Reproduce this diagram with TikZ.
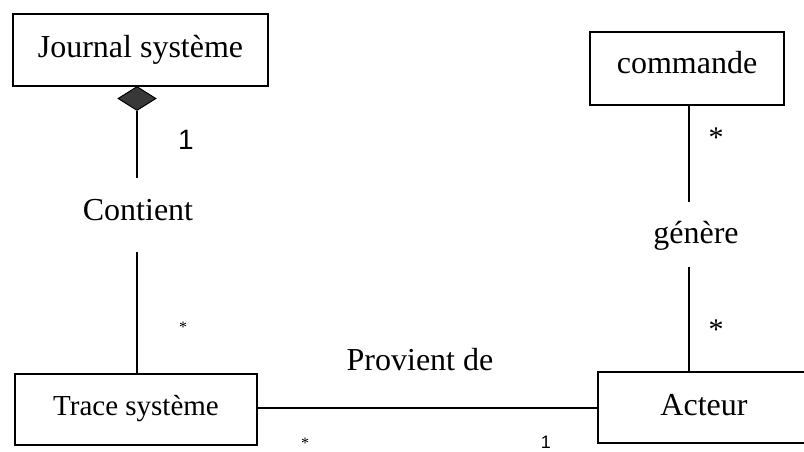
\documentclass[tikz,border=0pt]{standalone}
\usepackage{fontspec}
\setmainfont{Liberation Serif}
\newfontfamily\labelsans{Liberation Sans}
\usetikzlibrary{shapes.geometric}
\tikzset{
  classbox/.style={draw, line width=1.8pt, rectangle, inner sep=0pt,
    font=\fontsize{32}{38}\selectfont},
  assoc/.style={line width=1.8pt},
  rolename/.style={inner sep=0pt, font=\fontsize{32}{38}\selectfont},
  mult/.style={inner sep=0pt, font=\fontsize{30}{36}\selectfont},
  multsmall/.style={inner sep=0pt, font=\fontsize{16}{18}\selectfont},
  multsans/.style={inner sep=0pt, font=\labelsans\fontsize{28}{32}\selectfont},
  compo/.style={draw, fill=black!78, diamond, inner sep=0pt, line width=1pt,
    minimum width=38pt, minimum height=24pt, aspect=1.58},
}
\begin{document}
\begin{tikzpicture}[x=1pt, y=-1pt]
  \useasboundingbox (0,0) rectangle (804,451);

  % classes
  \node[classbox, minimum width=255pt, minimum height=72pt] (journal) at (140.5,50) {Journal système};
  \node[classbox, minimum width=194pt, minimum height=73pt,
        text depth=12pt] (commande) at (687,68.5) {commande};
  \node[classbox, minimum width=242pt, minimum height=71pt, text depth=8pt,
        font=\fontsize{29}{34}\selectfont] (trace) at (136,409.5) {Trace système};
  \node[classbox, minimum width=212pt, minimum height=71pt,
        text depth=6pt] (acteur) at (704,407.5) {Acteur};

  % composition: Journal système <>-- Trace système
  \node[compo, anchor=north] (dia) at (137,86) {};
  \coordinate (c1) at (137,178);
  \coordinate (c2) at (137,252);
  \node[rolename] (contient) at (138,210) {Contient};
  \draw[assoc] (dia.south) -- (c1);
  \draw[assoc] (c2) -- (trace.north -| c2);
  \node[multsans] (m1) at (186,140) {1};
  \node[multsmall] (m2) at (183,327) {*};

  % association: commande -- Acteur
  \coordinate (g1) at (689,202);
  \coordinate (g2) at (689,267);
  \node[rolename] (genere) at (696,236) {génère};
  \draw[assoc] (commande.south -| g1) -- (g1);
  \draw[assoc] (g2) -- (acteur.north -| g2);
  \node[mult] (m3) at (716,138) {*};
  \node[mult] (m4) at (716,330) {*};

  % association: Trace système -- Acteur
  \draw[assoc] (trace.east |- 0,408) -- (acteur.west |- 0,408);
  \node[rolename] (provient) at (420,360) {Provient de};
  \node[multsmall] (m5) at (305,443) {*};
  \node[multsans, font=\labelsans\fontsize{18}{22}\selectfont] (m6) at (546,442) {1};
\end{tikzpicture}
\end{document}
